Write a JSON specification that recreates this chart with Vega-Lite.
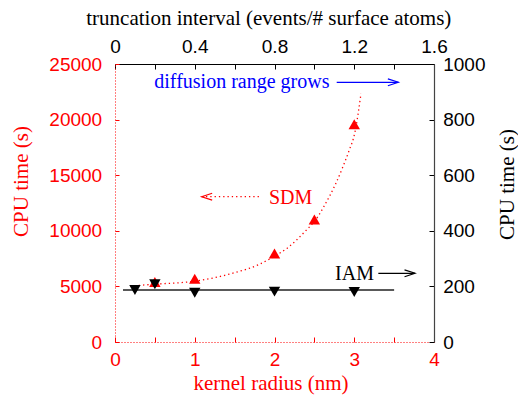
{
  "$schema": "https://vega.github.io/schema/vega-lite/v6.json",
  "width": 319,
  "height": 278,
  "autosize": "none",
  "padding": {"left": 115, "top": 64, "right": 84, "bottom": 56},
  "background": "white",
  "config": {"view": {"stroke": null}, "axis": {"grid": false}},
  "layer": [
    {
      "encoding": {
        "x": {
          "field": "x", "type": "quantitative",
          "scale": {"domain": [0, 4], "nice": false, "zero": false},
          "axis": {
            "orient": "bottom",
            "values": [0, 0.5, 1, 1.5, 2, 2.5, 3, 3.5, 4],
            "labelExpr": "datum.value % 1 == 0 ? format(datum.value, 'd') : ''",
            "tickSize": -5, "tickColor": "#ff0000", "tickWidth": 1,
            "domainColor": "#ff0000", "domainDash": [1, 2], "domainWidth": 1,
            "labelColor": "#ff0000", "labelFont": "Liberation Sans", "labelFontSize": 19,
            "labelPadding": 13.3, "labelFlush": false, "labelOverlap": false, "labelBound": false,
            "title": "kernel radius (nm)", "titleFont": "Liberation Serif", "titleFontSize": 21,
            "titleFontWeight": "normal", "titleColor": "#ff0000",
            "titleX": 155.5, "titleY": 41, "titleBaseline": "middle", "titleAlign": "center"
          }
        },
        "y": {
          "field": "y", "type": "quantitative",
          "scale": {"domain": [0, 25000], "nice": false},
          "axis": {
            "orient": "left",
            "values": [0, 5000, 10000, 15000, 20000, 25000],
            "format": "d",
            "tickSize": -4, "tickColor": "#ff0000", "tickWidth": 1,
            "domainColor": "#ff0000", "domainDash": [1, 2], "domainWidth": 1,
            "labelColor": "#ff0000", "labelFont": "Liberation Sans", "labelFontSize": 19,
            "labelPadding": 17.3, "labelOverlap": false, "labelBound": false, "labelFlush": false,
            "title": "CPU time (s)", "titleFont": "Liberation Serif", "titleFontSize": 21,
            "titleFontWeight": "normal", "titleColor": "#ff0000",
            "titleAngle": 270, "titleX": -93.3, "titleY": 117, "titleBaseline": "middle", "titleAlign": "center"
          }
        }
      },
      "layer": [
        {
          "data": {"values": [
            {"x": 0.19, "y": 5036},
            {"x": 0.5, "y": 5200},
            {"x": 1.0, "y": 5470},
            {"x": 1.5, "y": 6232},
            {"x": 1.8, "y": 6950},
            {"x": 1.99, "y": 7671},
            {"x": 2.17, "y": 8500},
            {"x": 2.38, "y": 9919},
            {"x": 2.53, "y": 11124},
            {"x": 2.63, "y": 12320},
            {"x": 2.76, "y": 14119},
            {"x": 2.85, "y": 15621},
            {"x": 2.93, "y": 17114},
            {"x": 3.01, "y": 18912},
            {"x": 3.085, "y": 22366}
          ]},
          "mark": {"type": "line", "color": "#ff0000", "strokeWidth": 1.3, "strokeDash": [1.3, 3], "interpolate": "monotone"}
        },
        {
          "data": {"values": [
            {"x": 0.5, "y": 5396},
            {"x": 1.0, "y": 5693},
            {"x": 2.0, "y": 7960},
            {"x": 2.5, "y": 11016},
            {"x": 3.0, "y": 19587}
          ]},
          "mark": {"type": "point", "shape": "triangle-up", "filled": true, "color": "#ff0000", "size": 130, "opacity": 1}
        },
        {
          "data": {"values": [{"x": 0.493, "y": 23355, "label": "diffusion range grows"}]},
          "mark": {"type": "text", "align": "left", "baseline": "middle", "font": "Liberation Serif", "fontSize": 20, "color": "#0000ff"},
          "encoding": {"text": {"field": "label"}}
        },
        {
          "data": {"values": [{"x": 2.78, "x2": 3.553, "y": 23355}]},
          "mark": {"type": "rule", "color": "#0000ff", "strokeWidth": 1.2},
          "encoding": {"x2": {"field": "x2"}}
        },
        {
          "data": {"values": [{"x": 3.553, "y": 23355}]},
          "mark": {"type": "point", "shape": "M-1,-0.33L0,0L-1,0.33", "filled": false, "color": "#0000ff", "size": 440, "strokeWidth": 1.2, "opacity": 1}
        },
        {
          "data": {"values": [{"x": 1.93, "y": 12950, "label": "SDM"}]},
          "mark": {"type": "text", "align": "left", "baseline": "middle", "font": "Liberation Serif", "fontSize": 20, "color": "#ff0000"},
          "encoding": {"text": {"field": "label"}}
        },
        {
          "data": {"values": [{"x": 1.087, "x2": 1.84, "y": 13067}]},
          "mark": {"type": "rule", "color": "#ff0000", "strokeWidth": 1.3, "strokeDash": [1.3, 3]},
          "encoding": {"x2": {"field": "x2"}}
        },
        {
          "data": {"values": [{"x": 1.087, "y": 13067}]},
          "mark": {"type": "point", "shape": "M1,-0.33L0,0L1,0.33", "filled": false, "color": "#ff0000", "size": 440, "strokeWidth": 1.2, "opacity": 1}
        },
        {
          "data": {"values": [{"x": 2.759, "y": 6115, "label": "IAM"}]},
          "mark": {"type": "text", "align": "left", "baseline": "middle", "font": "Liberation Serif", "fontSize": 20, "color": "#000000"},
          "encoding": {"text": {"field": "label"}}
        },
        {
          "data": {"values": [{"x": 3.302, "x2": 3.762, "y": 6178}]},
          "mark": {"type": "rule", "color": "#000000", "strokeWidth": 1.2},
          "encoding": {"x2": {"field": "x2"}}
        },
        {
          "data": {"values": [{"x": 3.762, "y": 6178}]},
          "mark": {"type": "point", "shape": "M-1,-0.33L0,0L-1,0.33", "filled": false, "color": "#000000", "size": 440, "strokeWidth": 1.2, "opacity": 1}
        }
      ]
    },
    {
      "encoding": {
        "x": {
          "field": "t", "type": "quantitative",
          "scale": {"domain": [0, 1.6], "nice": false, "zero": false},
          "axis": {
            "orient": "top",
            "values": [0, 0.2, 0.4, 0.6, 0.8, 1.0, 1.2, 1.4, 1.6],
            "labelExpr": "round(datum.value * 10) % 4 == 0 ? format(datum.value, '~g') : ''",
            "tickSize": -5, "tickColor": "#000000", "tickWidth": 1,
            "domainColor": "#000000", "domainWidth": 1.2,
            "labelColor": "#000000", "labelFont": "Liberation Sans", "labelFontSize": 19,
            "labelPadding": 13, "labelFlush": false, "labelOverlap": false, "labelBound": false,
            "title": "truncation interval (events/# surface atoms)", "titleFont": "Liberation Serif", "titleFontSize": 21,
            "titleFontWeight": "normal", "titleColor": "#000000",
            "titleX": 153.3, "titleY": -46, "titleBaseline": "middle", "titleAlign": "center"
          }
        },
        "y": {
          "field": "c", "type": "quantitative",
          "scale": {"domain": [0, 1000], "nice": false},
          "axis": {
            "orient": "right",
            "values": [0, 200, 400, 600, 800, 1000],
            "format": "d",
            "tickSize": -5, "tickColor": "#000000", "tickWidth": 1,
            "domainColor": "#444444", "domainWidth": 1.2,
            "labelColor": "#000000", "labelFont": "Liberation Sans", "labelFontSize": 19,
            "labelPadding": 13.7, "labelOverlap": false, "labelBound": false, "labelFlush": false,
            "title": "CPU time (s)", "titleFont": "Liberation Serif", "titleFontSize": 21,
            "titleFontWeight": "normal", "titleColor": "#000000",
            "titleAngle": 270, "titleX": 73, "titleY": 120, "titleBaseline": "middle", "titleAlign": "center"
          }
        }
      },
      "layer": [
        {
          "data": {"values": [{"t": 0.04, "c": 187}, {"t": 1.4, "c": 187}]},
          "mark": {"type": "line", "color": "#222222", "strokeWidth": 1.3}
        },
        {
          "data": {"values": [
            {"t": 0.1, "c": 187},
            {"t": 0.2, "c": 207.6},
            {"t": 0.4, "c": 177},
            {"t": 0.8, "c": 181},
            {"t": 1.2, "c": 180}
          ]},
          "mark": {"type": "point", "shape": "triangle-down", "filled": true, "color": "#000000", "size": 130, "opacity": 1}
        }
      ]
    }
  ],
  "resolve": {"scale": {"x": "independent", "y": "independent"}}
}
